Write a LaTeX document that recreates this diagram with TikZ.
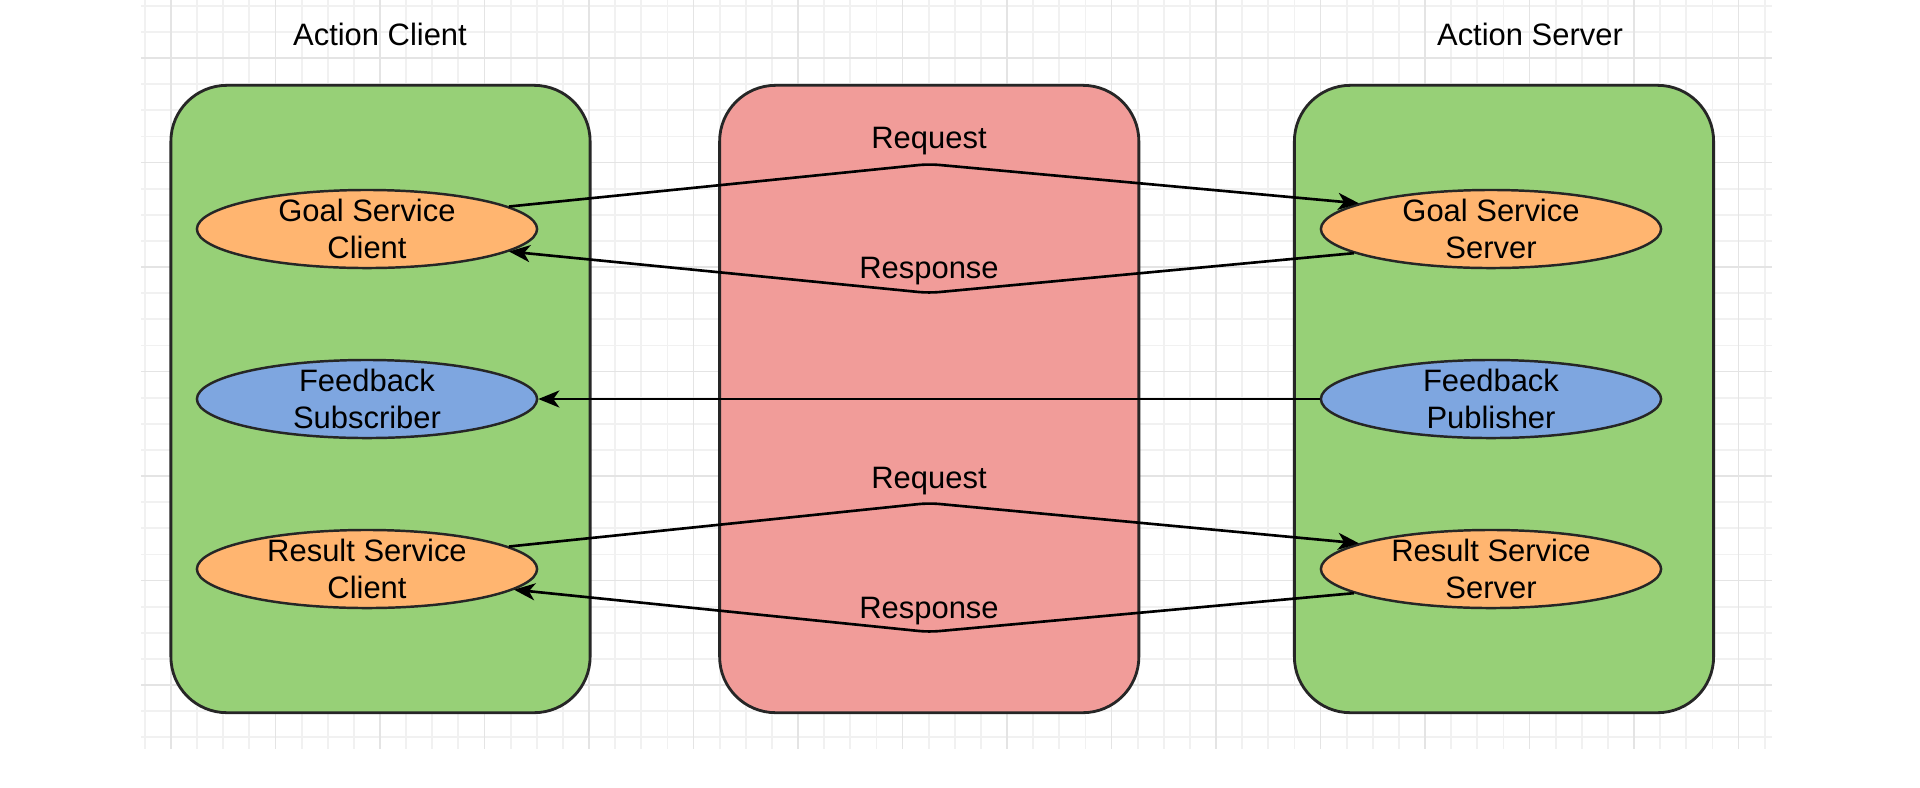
\documentclass[tikz,border=0pt]{standalone}
\usepackage{fontspec}
\setmainfont{Liberation Sans}
\usetikzlibrary{shapes.geometric, arrows.meta}

\definecolor{boxgreen}{HTML}{97D077}
\definecolor{boxred}{HTML}{F19C99}
\definecolor{svcorange}{HTML}{FFB570}
\definecolor{topicblue}{HTML}{7EA6E0}
\definecolor{gridminor}{HTML}{F1F1F1}
\definecolor{gridmajor}{HTML}{E4E4E4}

\begin{document}
\begin{tikzpicture}[x=0.01cm, y=-0.01cm,
    every node/.style={font=\fontsize{8.8}{10.3}\selectfont},
    panel/.style={draw=black!85, line width=0.8pt, rounded corners=0.56cm,
        minimum width=4.19cm, minimum height=6.27cm},
    svc/.style={ellipse, draw=black!85, line width=0.7pt, fill=svcorange,
        minimum width=3.4cm, minimum height=0.78cm, inner sep=0pt},
    topic/.style={svc, fill=topicblue},
    txt/.style={align=center, inner sep=0pt},
    flow/.style={-{Stealth[length=0.21cm, width=0.17cm, inset=0.06cm]},
        line width=0.75pt, rounded corners=0.1cm},
]
    % Canvas
    \useasboundingbox (0,0) rectangle (1920,787);
    \fill[white] (0,0) rectangle (1920,787);

    % Grid
    \foreach \i in {0,...,62}
        \draw[gridminor, line width=0.5pt] ({144.875+26.125*\i},0) -- ({144.875+26.125*\i},749);
    \foreach \j in {0,...,28}
        \draw[gridminor, line width=0.5pt] (141,{5.75+26.125*\j}) -- (1772,{5.75+26.125*\j});
    \foreach \i in {0,...,15}
        \draw[gridmajor, line width=0.5pt] ({171+104.5*\i},0) -- ({171+104.5*\i},749);
    \foreach \j in {0,...,6}
        \draw[gridmajor, line width=0.5pt] (141,{58+104.5*\j}) -- (1772,{58+104.5*\j});

    % Panels
    \node[panel, fill=boxgreen] (client) at (380.5,399) {};
    \node[panel, fill=boxred] (mid) at (929.25,399) {};
    \node[panel, fill=boxgreen] (server) at (1504,399) {};

    \node[txt, anchor=base] (clienttitle) at (380,45) {Action Client};
    \node[txt, anchor=base] (servertitle) at (1530,45) {Action Server};

    % Client side
    \node[svc] (gsc) at (367,229) {};
    \node[txt] at (gsc) {Goal Service\\Client};
    \node[topic] (fbs) at (367,399) {};
    \node[txt] at (fbs) {Feedback\\Subscriber};
    \node[svc] (rsc) at (367,569) {};
    \node[txt] at (rsc) {Result Service\\Client};

    % Server side
    \node[svc] (gss) at (1491,229) {};
    \node[txt] at (gss) {Goal Service\\Server};
    \node[topic] (fbp) at (1491,399) {};
    \node[txt] at (fbp) {Feedback\\Publisher};
    \node[svc] (rss) at (1491,569) {};
    \node[txt] at (rss) {Result Service\\Server};

    % Bend points
    \coordinate (goalreq) at (929,164);
    \coordinate (goalres) at (929,293);
    \coordinate (resreq) at (929,503);
    \coordinate (resres) at (929,632);

    % Goal service
    \draw[flow] (gsc.9) -- (goalreq) -- (gss.169);
    \draw[flow] (gss.190) -- (goalres) -- (gsc.-9);
    \node[txt, anchor=base] (goalreqlbl) at (929,148) {Request};
    \node[txt, anchor=base] (goalreslbl) at (929,278) {Response};

    % Feedback topic
    \draw[flow] (fbp.west) -- (fbs.east);

    % Result service
    \draw[flow] (rsc.9) -- (resreq) -- (rss.169);
    \draw[flow] (rss.190) -- (resres) -- (rsc.-8);
    \node[txt, anchor=base] (resreqlbl) at (929,488) {Request};
    \node[txt, anchor=base] (resreslbl) at (929,618) {Response};
\end{tikzpicture}
\end{document}
